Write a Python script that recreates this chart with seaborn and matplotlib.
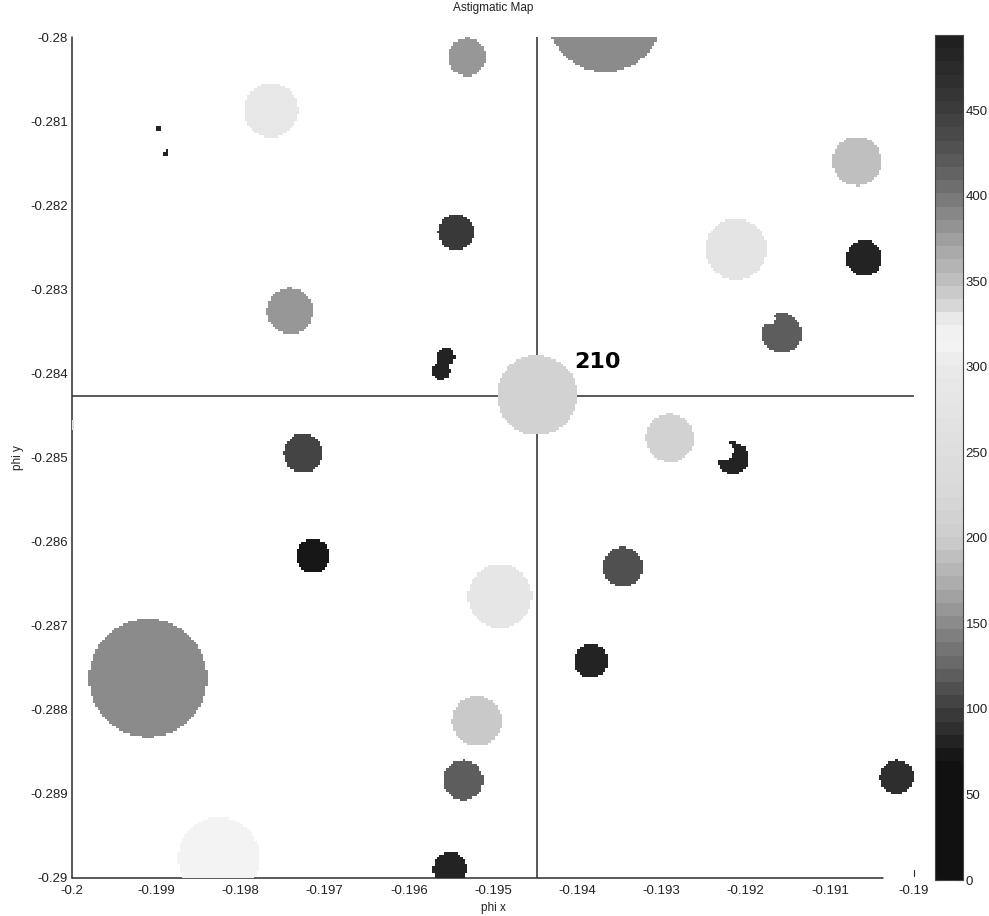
import numpy as np
import pandas as pd
import matplotlib
matplotlib.use("Agg")
import matplotlib.pyplot as plt
from matplotlib.colors import ListedColormap
import seaborn as sns

# map extent (phi x / phi y)
x_min, x_max = -0.2, -0.19
y_top, y_bottom = -0.28, -0.29

# spots: centre x, centre y, radius, value
spot_x = [-0.195309, -0.193670, -0.197637, -0.198979, -0.198884, -0.190677, -0.195439,
          -0.192114, -0.190594, -0.197411, -0.191568, -0.195558, -0.195618, -0.194477,
          -0.192898, -0.192150, -0.197257, -0.197138, -0.193456, -0.194917, -0.199097,
          -0.193836, -0.195190, -0.195356, -0.190202, -0.198254, -0.195511, -0.200048]
spot_y = [-0.280238, -0.279727, -0.280868, -0.281082, -0.281379, -0.281474, -0.282319,
          -0.282521, -0.282628, -0.283258, -0.283520, -0.283805, -0.283971, -0.284257,
          -0.284768, -0.285006, -0.284946, -0.286171, -0.286302, -0.286647, -0.287622,
          -0.287420, -0.288133, -0.288835, -0.288799, -0.289762, -0.289893, -0.284614]
spot_r = [0.000226, 0.000689, 0.000321, 0.000036, 0.000036, 0.000291, 0.000214,
          0.000362, 0.000214, 0.000273, 0.000238, 0.000107, 0.000107, 0.000475,
          0.000285, 0.000190, 0.000232, 0.000202, 0.000238, 0.000380, 0.000701,
          0.000202, 0.000297, 0.000238, 0.000202, 0.000487, 0.000202, 0.000083]
spot_val = [161, 152, 290, 83, 83, 187, 97,
            275, 81, 160, 120, 79, 79, 210,
            215, 78, 105, 77, 113, 285, 152,
            80, 200, 118, 88, 314, 82, 250]

# bites cut out of some spots
hole_x = [-0.192280, -0.191734]
hole_y = [-0.284911, -0.283341]
hole_r = [0.000131, 0.000083]

# selected spot
sel_x, sel_y = -0.194477, -0.284269
sel_label = "210"

x_ticks = [-0.2, -0.199, -0.198, -0.197, -0.196, -0.195, -0.194, -0.193, -0.192, -0.191, -0.19]
x_tick_labels = ["-0.2", "-0.199", "-0.198", "-0.197", "-0.196", "-0.195", "-0.194",
                 "-0.193", "-0.192", "-0.191", "-0.19"]
y_ticks = [-0.28, -0.281, -0.282, -0.283, -0.284, -0.285, -0.286, -0.287, -0.288, -0.289, -0.29]
y_tick_labels = ["-0.28", "-0.281", "-0.282", "-0.283", "-0.284", "-0.285", "-0.286",
                 "-0.287", "-0.288", "-0.289", "-0.29"]
cbar_ticks = [0, 50, 100, 150, 200, 250, 300, 350, 400, 450]
v_max = 494

# colormap anchors (value -> grey level)
cm_val = [0, 70, 80, 90, 100, 112, 125, 138, 150, 163, 175, 188, 200, 225, 250, 275, 300, 314,
          326, 332, 340, 350, 362, 375, 387, 400, 412, 425, 437, 450, 465, 480, 494]
cm_grey = [17, 17, 34, 48, 62, 80, 102, 120, 138, 158, 175, 190, 205, 216, 222, 228, 234, 244,
           238, 222, 208, 192, 176, 158, 140, 118, 100, 85, 72, 60, 48, 38, 30]

sns.set_style("white")
plt.rcParams['font.family'] = ['Liberation Sans', 'DejaVu Sans']

centres = (np.arange(64) + 0.5) / 64 * v_max
levels = np.interp(centres, cm_val, cm_grey) / 255.0
cmap = ListedColormap([(g, g, g) for g in levels])

# raster the spots
N = 360
dx = (x_max - x_min) / N
dy = (y_top - y_bottom) / N
xs = x_min + (np.arange(N) + 0.5) * dx
ys = y_top - (np.arange(N) + 0.5) * dy
XX, YY = np.meshgrid(xs, ys)
grid = np.full((N, N), np.nan)
for cx, cy, r, v in zip(spot_x, spot_y, spot_r, spot_val):
    grid[(XX - cx) ** 2 + (YY - cy) ** 2 <= r ** 2] = v
for cx, cy, r in zip(hole_x, hole_y, hole_r):
    grid[(XX - cx) ** 2 + (YY - cy) ** 2 <= r ** 2] = np.nan
df = pd.DataFrame(grid)


def to_col(x):
    return (np.asarray(x) - x_min) / dx


def to_row(y):
    return (y_top - np.asarray(y)) / dy


fig = plt.figure(figsize=(9.89, 9.16), dpi=100)
ax = fig.add_axes([0.0728, 0.0415, 0.8514, 0.918])
cax = fig.add_axes([0.9454, 0.0393, 0.0283, 0.9225])

sns.heatmap(df, ax=ax, cmap=cmap, vmin=0, vmax=v_max, cbar_ax=cax,
            xticklabels=False, yticklabels=False)
mesh = ax.collections[0]
mesh.set_zorder(3)

ax.set_xlim(0, N)
ax.set_ylim(N, 0)
for s in ax.spines.values():
    s.set_visible(False)

line_c = '#2b2b2b'
px = N / 841.0
# axis lines (sit under the image, like the original)
ax.plot([0, 0], [0, N], color=line_c, lw=1.1, clip_on=False, zorder=1)
ax.plot([0, to_col(-0.190369)], [N, N], color=line_c, lw=1.1, clip_on=False, zorder=1)
ax.plot([N, N], [N - 8 * px, N - 2 * px], color=line_c, lw=0.8, clip_on=False, zorder=1)

# crosshair through selected spot
ax.axvline(to_col(sel_x), color=line_c, lw=1.1, zorder=1)
ax.axhline(to_row(sel_y), color=line_c, lw=1.1, zorder=1)
ax.text(to_col(-0.194038), to_row(-0.283936), sel_label, fontsize=16, fontweight='bold',
        family='DejaVu Sans', ha='left', va='baseline', color='black', zorder=5)

ax.set_xticks(to_col(x_ticks))
ax.set_xticklabels(x_tick_labels)
ax.set_yticks(to_row(y_ticks))
ax.set_yticklabels(y_tick_labels, rotation=0)
ax.tick_params(axis='x', length=0, pad=5, labelsize=9.5, labelcolor='#222222')
ax.tick_params(axis='y', length=0, pad=3, labelsize=9.5, labelcolor='#222222')

cbar = mesh.colorbar
cbar.set_ticks(cbar_ticks)
cbar.set_ticklabels([str(t) for t in cbar_ticks])
cbar.outline.set_edgecolor('#444444')
cbar.outline.set_linewidth(0.8)
cax.tick_params(direction='in', length=4, width=0.8, left=True, right=True,
                color='#222222', labelsize=9.5, labelcolor='#222222', pad=2)

fig.text(0.4985, 0.991, "Astigmatic Map", ha='center', va='center', fontsize=8.5, color='#222222')
fig.text(0.4985, 0.0087, "phi x", ha='center', va='center', fontsize=8.5, color='#222222')
fig.text(0.018, 0.5, "phi y", ha='center', va='center', rotation=90, fontsize=8.5, color='#222222')

fig.savefig("out.png", dpi=100)
